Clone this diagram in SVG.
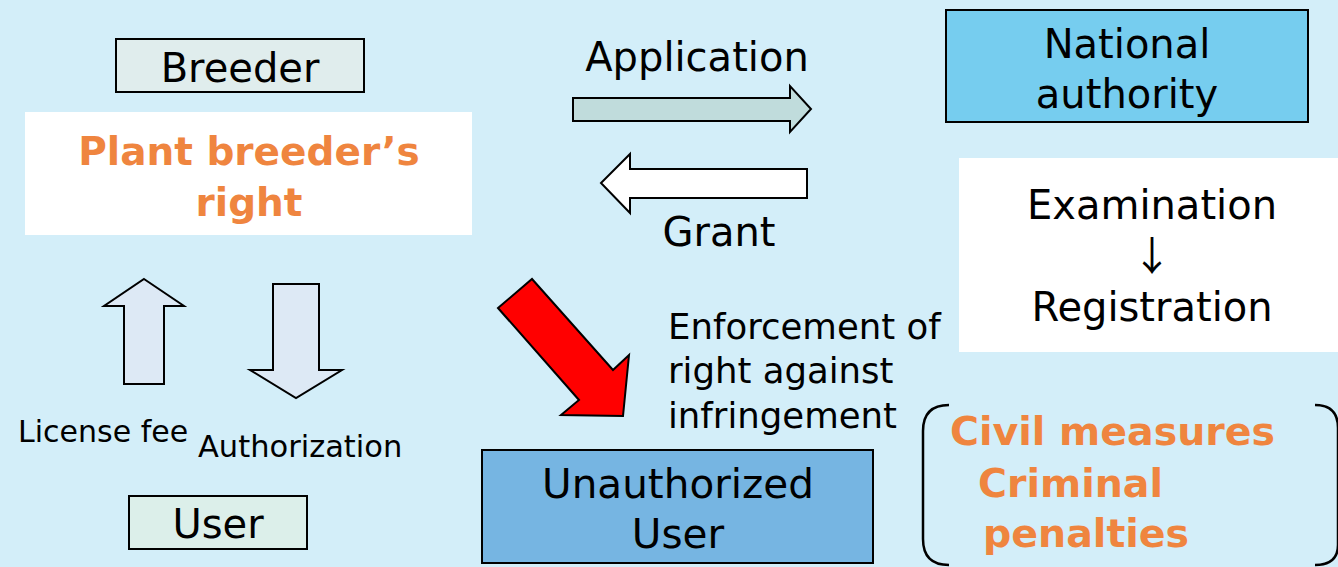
<svg xmlns="http://www.w3.org/2000/svg" width="1338" height="567" viewBox="0 0 1338 567">
<style>
.t{font-family:"DejaVu Sans","Liberation Sans",sans-serif;fill:#000}
.o{font-family:"DejaVu Sans","Liberation Sans",sans-serif;fill:#ef853f;font-weight:bold}
.box{stroke:#000;stroke-width:2}
.arr{stroke:#000;stroke-width:2;stroke-linejoin:miter}
</style>
<rect width="1338" height="567" fill="#d3eef9"/>
<g id="breeder">
<rect class="box" x="116" y="39" width="248" height="53" fill="#e0eded"/>
<text class="t" x="240" y="82" font-size="40" text-anchor="middle">Breeder</text>
</g>
<g id="pbr">
<rect x="25" y="112" width="447" height="123" fill="#fff"/>
<text class="o" x="249" y="165" font-size="39" text-anchor="middle">Plant breeder’s</text>
<text class="o" x="249" y="216" font-size="39" text-anchor="middle">right</text>
</g>
<g id="national">
<rect class="box" x="946" y="10" width="362" height="112" fill="#76cdef"/>
<text class="t" x="1127" y="58" font-size="40" text-anchor="middle">National</text>
<text class="t" x="1127" y="108" font-size="40" text-anchor="middle">authority</text>
</g>
<g id="exam">
<rect x="959" y="158" width="379" height="194" fill="#fff"/>
<text class="t" x="1152" y="219" font-size="40" text-anchor="middle">Examination</text>
<text x="1152" y="270" font-size="40" text-anchor="middle" font-family="'Noto Sans CJK JP','DejaVu Sans',sans-serif">↓</text>
<text class="t" x="1152" y="321" font-size="40" text-anchor="middle">Registration</text>
</g>
<g id="user">
<rect class="box" x="129" y="496" width="178" height="53" fill="#dcefea"/>
<text class="t" x="218" y="538" font-size="40" text-anchor="middle">User</text>
</g>
<g id="unauth">
<rect class="box" x="482" y="450" width="391" height="113" fill="#76b5e2"/>
<text class="t" x="678" y="498" font-size="40.5" text-anchor="middle">Unauthorized</text>
<text class="t" x="678" y="548" font-size="40.5" text-anchor="middle">User</text>
</g>
<g id="measures">
<path d="M949 405 Q923 405 923 431 L923 539 Q923 565 949 565" fill="none" stroke="#000" stroke-width="2.5"/>
<path d="M1315 405 Q1338 405 1338 428 L1338 545 Q1338 565 1315 565" fill="none" stroke="#000" stroke-width="2.5"/>
<text class="o" x="950" y="445" font-size="39.5">Civil measures</text>
<text class="o" x="978" y="497" font-size="39.5">Criminal</text>
<text class="o" x="983" y="547" font-size="39.5">penalties</text>
</g>
<g id="connectors">
<path class="arr" d="M573 98 L790 98 L790 86 L811 109 L790 132 L790 121 L573 121 Z" fill="#c0dcdc"/>
<path class="arr" d="M807 169 L630 169 L630 154 L601 183 L630 213 L630 198 L807 198 Z" fill="#fff"/>
<path class="arr" d="M144 279 L184 306 L164 306 L164 384 L124 384 L124 306 L104 306 Z" fill="#dde9f5"/>
<path class="arr" d="M273 284 L319 284 L319 370 L342 370 L296 398 L250 370 L273 370 Z" fill="#dde9f5"/>
<path class="arr" d="M498 308 L532 279 L613 370 L629 355 L623 416 L561 415 L579 400 Z" fill="#ff0000"/>
<text class="t" x="697" y="71" font-size="40" text-anchor="middle">Application</text>
<text class="t" x="719" y="246" font-size="40" text-anchor="middle">Grant</text>
<text class="t" x="18" y="442" font-size="30">License fee</text>
<text class="t" x="198" y="457" font-size="30.5">Authorization</text>
<text class="t" x="668" y="339" font-size="35.5">Enforcement of</text>
<text class="t" x="668" y="383" font-size="35.5">right against</text>
<text class="t" x="668" y="428" font-size="35.5">infringement</text>
</g>
</svg>
